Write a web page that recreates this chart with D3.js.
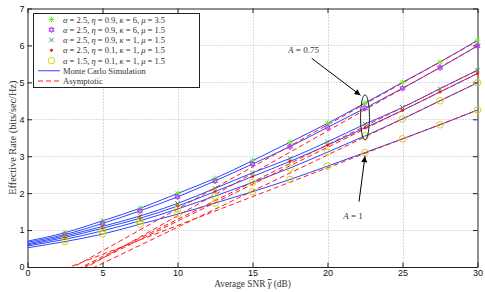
<!DOCTYPE html>
<html>
<head>
<meta charset="utf-8">
<script src="https://cdn.jsdelivr.net/npm/d3@7"></script>
<style>
body { margin: 0; background: #fff; }
</style>
</head>
<body>
<div id="chart"></div>
<script>
const width = 485;
const height = 292;
const margin = { left: 27.5, right: 7.5, top: 8.5, bottom: 25 };

// average SNR (dB) and Monte Carlo effective rate per curve
const snr = [0, 2.5, 5, 7.5, 10, 12.5, 15, 17.5, 20, 22.5, 25, 27.5, 30];
const mcStar = [0.70, 0.93, 1.25, 1.59, 1.99, 2.40, 2.88, 3.38, 3.89, 4.44, 5.00, 5.55, 6.14];
const mcHexagram = [0.67, 0.88, 1.18, 1.52, 1.90, 2.33, 2.79, 3.26, 3.78, 4.30, 4.84, 5.40, 5.99];
const mcCross = [0.63, 0.84, 1.10, 1.38, 1.72, 2.13, 2.55, 2.94, 3.39, 3.87, 4.32, 4.83, 5.33];
const mcDot = [0.60, 0.80, 1.05, 1.32, 1.65, 2.04, 2.45, 2.86, 3.30, 3.77, 4.24, 4.74, 5.24];
const mcCircle = [0.57, 0.75, 0.98, 1.25, 1.57, 1.92, 2.29, 2.68, 3.11, 3.55, 4.01, 4.50, 4.99];
const mcCircleA1 = [0.52, 0.69, 0.89, 1.16, 1.43, 1.73, 2.04, 2.37, 2.73, 3.10, 3.47, 3.85, 4.25];

// asymptotic lines (straight in dB), given at both ends
const asymSnr = [0, 30];
const asymStar = [-0.70, 6.12];
const asymHexagram = [-0.91, 5.98];
const asymCross = [-0.73, 5.33];
const asymDot = [-0.76, 5.24];
const asymCircle = [-0.88, 4.99];
const asymCircleA1 = [-0.44, 4.25];

const xTicks = [0, 5, 10, 15, 20, 25, 30];
const yTicks = [0, 1, 2, 3, 4, 5, 6, 7];

const legendAlpha = ["2.5", "2.5", "2.5", "2.5", "1.5"];
const legendEta = ["0.9", "0.9", "0.9", "0.1", "0.1"];
const legendKappa = ["6", "6", "1", "1", "1"];
const legendMu = ["3.5", "1.5", "1.5", "1.5", "1.5"];

const x = d3.scaleLinear().domain([0, 30]).range([margin.left, width - margin.right]);
const y = d3.scaleLinear().domain([0, 7]).range([height - margin.bottom, margin.top]);

const svg = d3.select("#chart")
    .append("svg")
    .attr("width", width)
    .attr("height", height)
    .style("font-family", "'Liberation Serif', 'DejaVu Serif', serif");

const defs = svg.append("defs");
defs.append("clipPath").attr("id", "plotClip")
    .append("rect")
    .attr("x", x(0)).attr("y", y(7))
    .attr("width", x(30) - x(0)).attr("height", y(0) - y(7));
defs.append("marker")
    .attr("id", "arrow")
    .attr("viewBox", "0 0 10 10")
    .attr("refX", 10).attr("refY", 5)
    .attr("markerWidth", 8).attr("markerHeight", 6)
    .attr("markerUnits", "userSpaceOnUse")
    .attr("orient", "auto")
    .append("path")
    .attr("d", "M0,0L10,5L0,10Z")
    .attr("fill", "#000");

// grid
const grid = svg.append("g").attr("stroke", "#b8b8b8").attr("stroke-dasharray", "1,2").attr("stroke-width", 1);
grid.selectAll(".gx").data(xTicks.slice(1, -1)).enter().append("line")
    .attr("x1", d => Math.round(x(d)) + 0.5).attr("x2", d => Math.round(x(d)) + 0.5)
    .attr("y1", y(7)).attr("y2", y(0));
grid.selectAll(".gy").data(yTicks.slice(1, -1)).enter().append("line")
    .attr("y1", d => Math.round(y(d)) + 0.5).attr("y2", d => Math.round(y(d)) + 0.5)
    .attr("x1", x(0)).attr("x2", x(30));

// axes with inward ticks on all four sides
const tickLen = 4.5;
svg.append("g").attr("transform", `translate(0,${y(0)})`)
    .call(d3.axisBottom(x).tickValues(xTicks).tickSize(-tickLen).tickPadding(3).tickFormat(d3.format("d")).tickSizeOuter(0));
svg.append("g").attr("transform", `translate(${x(0)},0)`)
    .call(d3.axisLeft(y).tickValues(yTicks).tickSize(-tickLen).tickPadding(3).tickFormat(d3.format("d")).tickSizeOuter(0));
svg.append("g").attr("transform", `translate(0,${y(7)})`)
    .call(d3.axisTop(x).tickValues(xTicks).tickSize(-tickLen).tickFormat("").tickSizeOuter(0));
svg.append("g").attr("transform", `translate(${x(30)},0)`)
    .call(d3.axisRight(y).tickValues(yTicks).tickSize(-tickLen).tickFormat("").tickSizeOuter(0));
svg.selectAll(".domain").attr("stroke", "#222");
svg.selectAll(".tick line").attr("stroke", "#222");
svg.selectAll(".tick text")
    .style("font-family", "'Liberation Sans', Arial, sans-serif")
    .style("font-size", "9px")
    .attr("fill", "#111");

// series
const curves = [
    { mc: mcStar, asym: asymStar, symbol: "star", color: "#6cf02a" },
    { mc: mcHexagram, asym: asymHexagram, symbol: "hexagram", color: "#b23cf0" },
    { mc: mcCross, asym: asymCross, symbol: "cross", color: "#2e8b3a" },
    { mc: mcDot, asym: asymDot, symbol: "dot", color: "#ff1010" },
    { mc: mcCircle, asym: asymCircle, symbol: "circle", color: "#c4d000" },
    { mc: mcCircleA1, asym: asymCircleA1, symbol: "circle", color: "#c4d000" }
];

const line = d3.line()
    .x(d => x(d[0]))
    .y(d => y(d[1]))
    .curve(d3.curveMonotoneX);

const plot = svg.append("g").attr("clip-path", "url(#plotClip)");

plot.selectAll(".mc").data(curves).enter().append("path")
    .attr("d", c => line(snr.map((s, i) => [s, c.mc[i]])))
    .attr("fill", "none")
    .attr("stroke", "#2a46ff")
    .attr("stroke-width", 1);

plot.selectAll(".asym").data(curves).enter().append("path")
    .attr("d", c => line(asymSnr.map((s, i) => [s, c.asym[i]])))
    .attr("fill", "none")
    .attr("stroke", "#ff1a1a")
    .attr("stroke-width", 1)
    .attr("stroke-dasharray", "5,3");

function markerPath(type) {
    const r = 3;
    if (type === "star") {
        const t = r * 0.72;
        return `M0,${-r}V${r}M${-r},0H${r}M${-t},${-t}L${t},${t}M${-t},${t}L${t},${-t}`;
    }
    if (type === "hexagram") {
        const a = r, b = r * 0.866, c = r * 0.5;
        return `M0,${-a}L${b},${c}L${-b},${c}ZM0,${a}L${b},${-c}L${-b},${-c}Z`;
    }
    if (type === "cross") {
        const t = 2.2;
        return `M${-t},${-t}L${t},${t}M${-t},${t}L${t},${-t}`;
    }
    if (type === "dot") {
        return d3.symbol().type(d3.symbolCircle).size(4)();
    }
    return d3.symbol().type(d3.symbolCircle).size(Math.PI * 3.3 * 3.3)();
}

curves.forEach(c => {
    const pts = snr.map((s, i) => [s, c.mc[i]]).slice(1);
    svg.append("g").selectAll("path").data(pts).enter().append("path")
        .attr("transform", d => `translate(${x(d[0])},${y(d[1])})`)
        .attr("d", markerPath(c.symbol))
        .attr("fill", c.symbol === "dot" ? c.color : "none")
        .attr("stroke", c.color)
        .attr("stroke-width", 0.9);
});

// annotations
const ann = svg.append("g");
ann.append("ellipse")
    .attr("cx", x(22.5)).attr("cy", y(4.05))
    .attr("rx", 4.5).attr("ry", y(0) - y(0.61))
    .attr("fill", "none").attr("stroke", "#222").attr("stroke-width", 1);
ann.append("line")
    .attr("x1", x(18.95)).attr("y1", y(5.65))
    .attr("x2", x(22.2)).attr("y2", y(4.65))
    .attr("stroke", "#000").attr("stroke-width", 1)
    .attr("marker-end", "url(#arrow)");
ann.append("line")
    .attr("x1", x(22.1)).attr("y1", y(1.77))
    .attr("x2", x(22.5)).attr("y2", y(3.0))
    .attr("stroke", "#000").attr("stroke-width", 1)
    .attr("marker-end", "url(#arrow)");

function mathLabel(g, px, py, value) {
    const t = g.append("text")
        .attr("x", px).attr("y", py)
        .attr("text-anchor", "middle")
        .attr("font-size", "9px")
        .attr("fill", "#333");
    t.append("tspan").attr("font-style", "italic").text("A");
    t.append("tspan").text(" = " + value);
}
mathLabel(ann, x(18.4), y(5.8), "0.75");
mathLabel(ann, x(21.7), y(1.30), "1");

// axis titles
const xTitle = svg.append("text")
    .attr("x", (x(0) + x(30)) / 2).attr("y", 287)
    .attr("text-anchor", "middle")
    .attr("font-size", "9.3px")
    .attr("fill", "#333");
xTitle.append("tspan").text("Average SNR ");
xTitle.append("tspan").attr("font-style", "italic").style("text-decoration", "overline").text("\u03B3");
xTitle.append("tspan").text(" (dB)");

svg.append("text")
    .attr("transform", `translate(15.5,${(y(0) + y(7)) / 2}) rotate(-90)`)
    .attr("text-anchor", "middle")
    .attr("font-size", "10.3px")
    .attr("fill", "#333")
    .text("Effective Rate (bits/sec/Hz)");

// legend
const legend = svg.append("g");
legend.append("rect")
    .attr("x", 33.5).attr("y", 13.5)
    .attr("width", 166).attr("height", 74)
    .attr("fill", "#fff").attr("stroke", "#222").attr("stroke-width", 1);

const rowY = i => 19.5 + i * 10.25;
curves.slice(0, 5).forEach((c, i) => {
    legend.append("path")
        .attr("transform", `translate(51.5,${rowY(i)})`)
        .attr("d", markerPath(c.symbol))
        .attr("fill", c.symbol === "dot" ? c.color : "none")
        .attr("stroke", c.color)
        .attr("stroke-width", 0.9);
    const t = legend.append("text")
        .attr("x", 63).attr("y", rowY(i) + 3)
        .attr("font-size", "8.5px")
        .attr("fill", "#333");
    const parts = [["\u03B1", legendAlpha[i]], ["\u03B7", legendEta[i]], ["\u03BA", legendKappa[i]], ["\u03BC", legendMu[i]]];
    parts.forEach((p, j) => {
        t.append("tspan").attr("font-style", "italic").text(p[0]);
        t.append("tspan").text(" = " + p[1] + (j < 3 ? ", " : ""));
    });
});
legend.append("line")
    .attr("x1", 38).attr("x2", 60).attr("y1", rowY(5)).attr("y2", rowY(5))
    .attr("stroke", "#2a46ff").attr("stroke-width", 1);
legend.append("line")
    .attr("x1", 38).attr("x2", 60).attr("y1", rowY(6)).attr("y2", rowY(6))
    .attr("stroke", "#ff1a1a").attr("stroke-width", 1).attr("stroke-dasharray", "5,3");
legend.append("text").attr("x", 63).attr("y", rowY(5) + 3)
    .attr("font-size", "8.5px").attr("fill", "#333").text("Monte Carlo Simulation");
legend.append("text").attr("x", 63).attr("y", rowY(6) + 3)
    .attr("font-size", "8.5px").attr("fill", "#333").text("Asymptotic");
</script>
</body>
</html>
